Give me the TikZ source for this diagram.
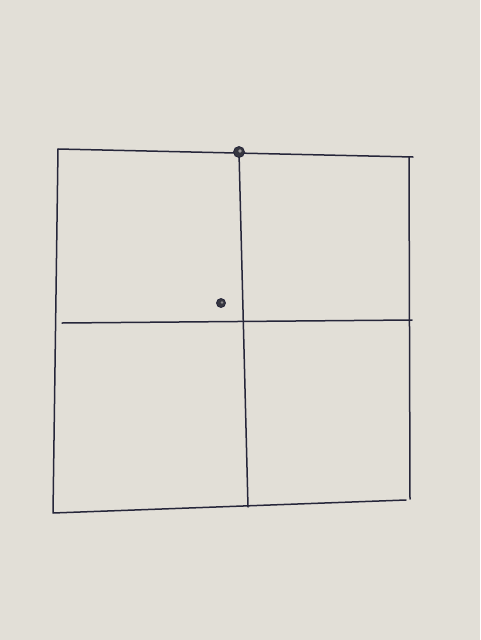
\documentclass[tikz,border=0pt]{standalone}
\definecolor{paper}{RGB}{226,223,215}
\definecolor{ink}{RGB}{38,38,58}
\definecolor{pin}{RGB}{55,55,65}
\begin{document}
\begin{tikzpicture}[x=1pt,y=-1pt,
  pen/.style={draw=ink,line width=1.5pt,line cap=round,line join=round},
  pinhead/.style={circle,fill=pin,draw=ink,line width=0.8pt,inner sep=0pt}]
\fill[paper] (0,0) rectangle (480,640);
\useasboundingbox (0,0) rectangle (480,640);
\coordinate (tl) at (58,149);
\coordinate (tr) at (413,157);
\coordinate (trc) at (409,157);
\coordinate (br) at (410,499);
\coordinate (brb) at (406,500);
\coordinate (bl) at (53,513);
\coordinate (tm) at (239,152);
\coordinate (bm) at (248,507);
\coordinate (lm) at (62,323);
\coordinate (rm) at (412,320);
% outer square
\draw[pen] (tl) -- (tr);
\draw[pen] (trc) -- (br);
\draw[pen] (tl) -- (bl) -- (brb);
% dividers
\draw[pen] (tm) -- (bm);
\draw[pen] (lm) -- (rm);
% dots
\node[pinhead,minimum size=11pt] (p1) at (tm) {};
\fill[paper!60!pin] ([shift={(1,-1)}]p1.center) circle (1.8pt);
\node[pinhead,minimum size=9pt] (p2) at (221,303) {};
\fill[paper!50!pin] ([shift={(1,-0.5)}]p2.center) circle (1.3pt);
\end{tikzpicture}
\end{document}
